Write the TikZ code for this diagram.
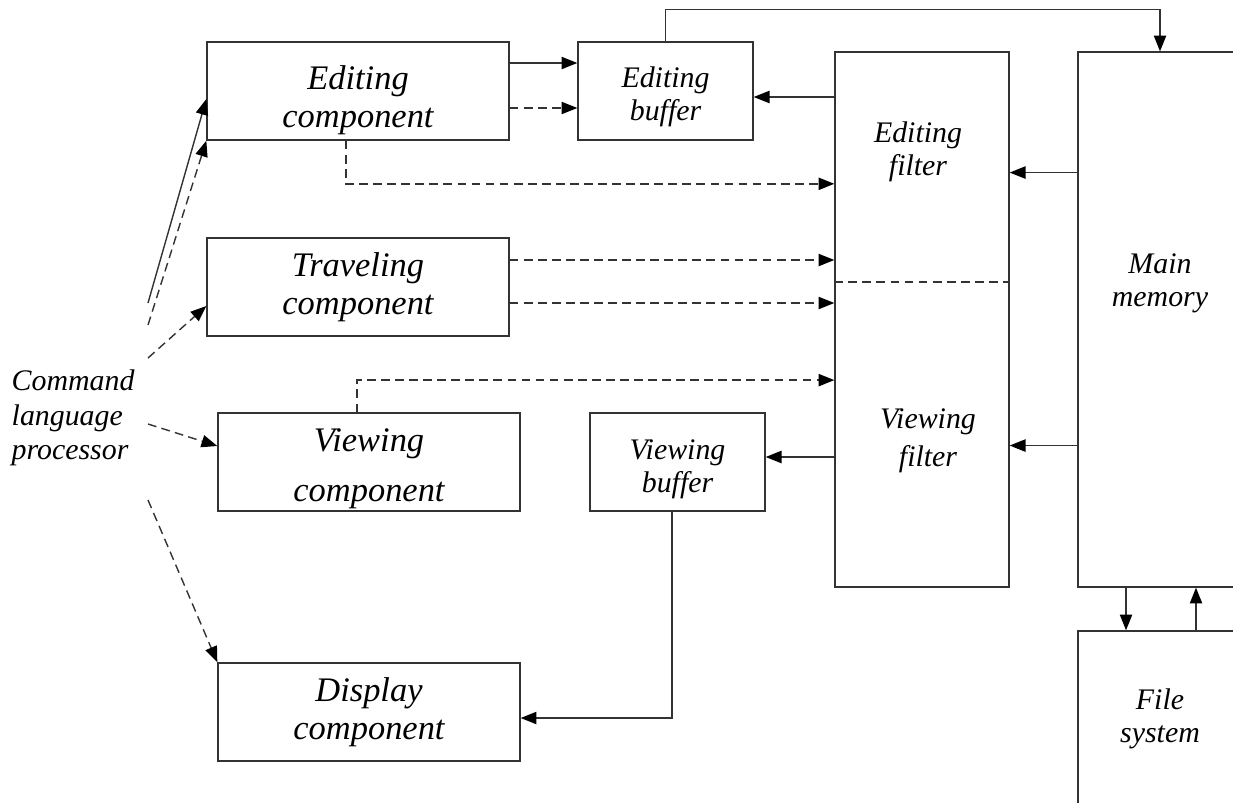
\documentclass[tikz,border=0pt]{standalone}
\usepackage{fontspec}
\setmainfont{Liberation Serif}
\usetikzlibrary{arrows.meta, calc}
\definecolor{linegray}{HTML}{333333}

\begin{document}
\begin{tikzpicture}[x=0.02cm, y=-0.02cm, line width=0.8pt, color=linegray,
  box/.style={draw, inner sep=0pt},
  bigbox/.style={box, minimum width=6.04cm, minimum height=1.96cm},
  bigtxt/.style={align=center, inner sep=0pt, text=black, font=\fontsize{19.6}{21.6}\selectfont\itshape},
  txt/.style={align=center, inner sep=0pt, text=black, font=\fontsize{17}{18.8}\selectfont\itshape},
  arr/.style={-{Triangle[length=9pt,width=7pt,color=black]}},
  dsh/.style={arr, dash pattern=on 5pt off 3pt}]
  \useasboundingbox (0,0) rectangle (1233,802);

  \node[bigbox] (edit) at (358,91) {};
  \node[box, minimum width=3.5cm, minimum height=1.96cm] (ebuf) at (665.5,91) {};
  \node[bigbox] (trav) at (358,287) {};
  \node[bigbox] (view) at (369,462) {};
  \node[box, minimum width=3.5cm, minimum height=1.96cm] (vbuf) at (677.5,462) {};
  \node[bigbox] (disp) at (369,712) {};
  \node[box, minimum width=3.48cm, minimum height=10.7cm] (filt) at (922,319.5) {};
  \node[box, minimum width=3.64cm, minimum height=10.7cm] (mem) at (1169,319.5) {};
  \node[box, minimum width=3.64cm, minimum height=3.6cm] (fs) at (1169,721) {};

  \node[bigtxt] (edittxt) at ([yshift=-0.19cm]edit.center) {Editing\\component};
  \node[txt] (ebuftxt) at ([yshift=-0.12cm]ebuf.center) {Editing\\buffer};
  \node[bigtxt] (travtxt) at (trav.center) {Traveling\\component};
  \node[bigtxt] (viewtxt) at ([yshift=-0.13cm]view.center) {Viewing\\[7pt]component};
  \node[txt] (vbuftxt) at ([yshift=-0.14cm]vbuf.center) {Viewing\\buffer};
  \node[bigtxt] (disptxt) at (disp.center) {Display\\component};
  \node[txt] (efilt) at (918,152) {Editing\\filter};
  \node[txt] (vfilt) at (928,441) {Viewing\\[3pt]filter};
  \node[txt] (memtxt) at (1160,283) {Main\\memory};
  \node[txt] (fstxt) at (1160,719) {File\\system};
  \node[txt, align=left, anchor=west, font=\fontsize{17}{19.8}\selectfont\itshape] (clp) at (11,418) {Command\\language\\processor};

  \coordinate (c1) at (148,303);
  \coordinate (c2) at (148,325);
  \coordinate (c3) at (148,358);
  \coordinate (c4) at (148,424);
  \coordinate (c5) at (148,500);
  \draw[arr] (c1) -- ([yshift=-0.16cm]edit.west);
  \draw[dsh] (c2) -- (edit.south west);
  \draw[dsh] (c3) -- ([yshift=-0.38cm]trav.west);
  \draw[dsh] (c4) -- ([yshift=0.32cm]view.west);
  \draw[dsh] (c5) -- (disp.north west);

  \draw[arr] ([yshift=0.56cm]edit.east) -- ([yshift=0.56cm]ebuf.west);
  \draw[dsh] ([yshift=-0.34cm]edit.east) -- ([yshift=-0.34cm]ebuf.west);
  \draw[arr] (ebuf.north) -- ++(0,-32) -| ([xshift=-0.18cm]mem.north);

  \coordinate (ein) at ([yshift=-0.12cm]ebuf.east);
  \draw[arr] (ein -| filt.west) -- (ein);
  \draw[dsh] ([xshift=-0.24cm]edit.south) |- ($(filt.north west)!0.247!(filt.south west)$);
  \draw[dsh] ([yshift=0.54cm]trav.east) coordinate (t1) -- (t1 -| filt.west);
  \draw[dsh] ([yshift=-0.32cm]trav.east) coordinate (t2) -- (t2 -| filt.west);
  \draw[dsh] ([xshift=-0.24cm]view.north) |- ($(filt.north west)!0.613!(filt.south west)$);
  \draw[dash pattern=on 5pt off 3pt] ($(filt.north west)!0.43!(filt.south west)$) -- ($(filt.north east)!0.43!(filt.south east)$);

  \coordinate (vin) at ([yshift=0.1cm]vbuf.east);
  \draw[arr] (vin -| filt.west) -- (vin);
  \draw[arr] ([xshift=-0.11cm]vbuf.south) |- ([yshift=-0.12cm]disp.east);

  \draw[arr] ($(mem.north west)!0.226!(mem.south west)$) -- ($(filt.north east)!0.226!(filt.south east)$);
  \draw[arr] ($(mem.north west)!0.735!(mem.south west)$) -- ($(filt.north east)!0.735!(filt.south east)$);

  \draw[arr] ([xshift=-0.86cm]mem.south) -- ([xshift=-0.86cm]fs.north);
  \draw[arr] ([xshift=0.54cm]fs.north) -- ([xshift=0.54cm]mem.south);
\end{tikzpicture}
\end{document}
